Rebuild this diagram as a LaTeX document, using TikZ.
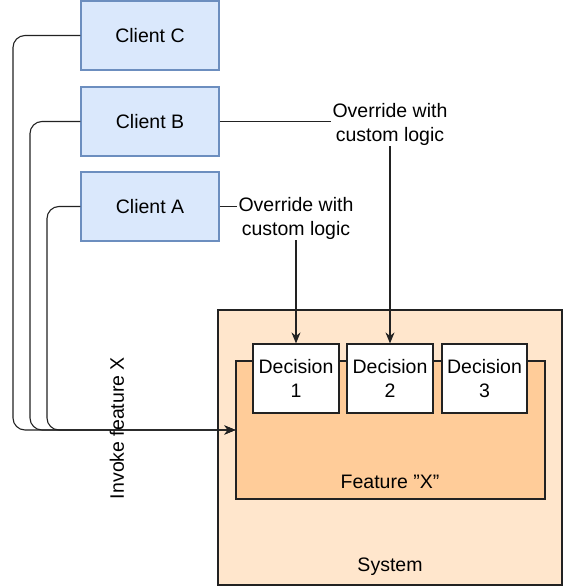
\documentclass[tikz,border=0pt]{standalone}
\usepackage{fontspec}
\setmainfont{Liberation Sans}
\usepackage{xcolor}
\usetikzlibrary{arrows.meta}
\definecolor{clientfill}{HTML}{DAE8FC}
\definecolor{clientdraw}{HTML}{6C8EBF}
\definecolor{sysfill}{HTML}{FFE6CC}
\definecolor{featfill}{HTML}{FFCC99}
\definecolor{edge}{HTML}{222222}
\begin{document}
\begin{tikzpicture}[x=1pt,y=-1pt,font=\fontsize{19.5}{24}\selectfont,
	client/.style={rectangle,draw=clientdraw,line width=1.2pt,fill=clientfill,minimum width=138pt,minimum height=69pt,inner sep=0pt},
	decision/.style={rectangle,draw=edge,line width=1.2pt,fill=white,minimum width=86pt,minimum height=69pt,inner sep=0pt,align=center},
	link/.style={draw=edge,line width=1.1pt},
	arrow/.style={link,-{Stealth[length=11pt,width=9pt]}}]
	\useasboundingbox (0,0) rectangle (564,586);
	\node[rectangle,draw=edge,line width=1.2pt,fill=sysfill,minimum width=344pt,minimum height=275pt] (sys) at (390,447.5) {};
	\node (syslbl) at (390,567) {System};
	\node[rectangle,draw=edge,line width=1.2pt,fill=featfill,minimum width=309pt,minimum height=138pt] (feat) at (390.5,430) {};
	\node (featlbl) at (390,482) {Feature \symbol{34}X\symbol{34}};
	\node[decision] (d1) at (296,378.5) {Decision\\1};
	\node[decision] (d2) at (390,378.5) {Decision\\2};
	\node[decision,minimum width=85pt] (d3) at (484.5,378.5) {Decision\\3};
	\node[client] (cC) at (150,35.5) {Client C};
	\node[client] (cB) at (150,121.5) {Client B};
	\node[client] (cA) at (150,206.5) {Client A};
	\node[align=center,inner sep=1pt] (ovA) at (296,218) {Override with\\custom logic};
	\node[align=center,inner sep=1pt] (ovB) at (390,124) {Override with\\custom logic};
	\coordinate (bendC) at (13,430);
	\coordinate (bendB) at (30,430);
	\coordinate (bendA) at (47,430);
	\draw[link] (cA.east) -- (cA.east -| ovA.west);
	\draw[link] (cB.east) -- (cB.east -| ovB.west);
	\draw[arrow] (ovA.south) -- (d1.north);
	\draw[arrow] (ovB.south) -- (d2.north);
	\draw[arrow,rounded corners=12pt] (cC.west) -| (bendC) -- (feat.west);
	\draw[arrow,rounded corners=12pt] (cB.west) -| (bendB) -- (feat.west);
	\draw[arrow,rounded corners=12pt] (cA.west) -| (bendA) -- (feat.west);
	\node[rotate=90] (invoke) at (117,428) {Invoke feature X};
\end{tikzpicture}
\end{document}
